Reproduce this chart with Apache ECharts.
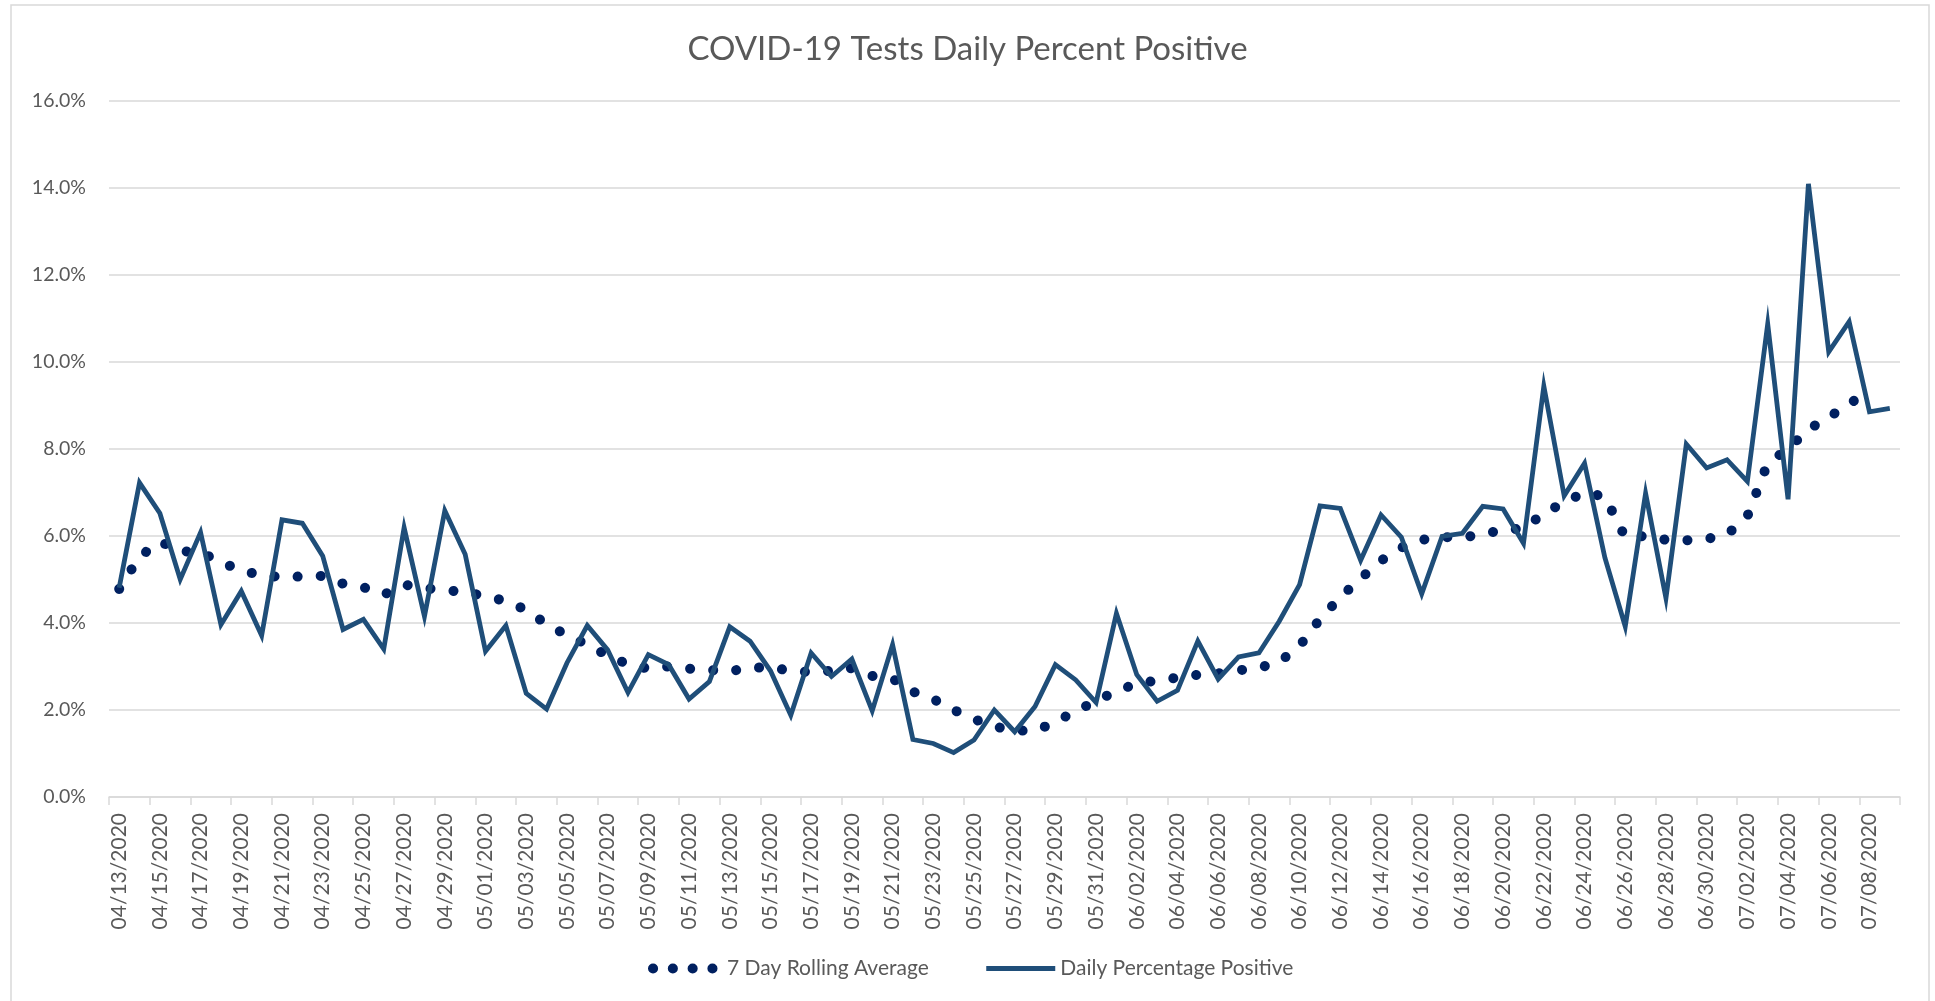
<!DOCTYPE html>
<html>
<head>
<meta charset="utf-8">
<title>COVID-19 Tests Daily Percent Positive</title>
<script src="https://cdn.jsdelivr.net/npm/echarts@6/dist/echarts.min.js"></script>
<style>
  html, body { margin: 0; padding: 0; background: #fff; }
  #chart { width: 1935px; height: 1001px; }
</style>
</head>
<body>
<div id="chart"></div>
<script>
// categories: one per day, 04/13/2020 .. 07/09/2020
var dates = [
  '04/13/2020', '04/14/2020', '04/15/2020', '04/16/2020', '04/17/2020', '04/18/2020', '04/19/2020', '04/20/2020',
  '04/21/2020', '04/22/2020', '04/23/2020', '04/24/2020', '04/25/2020', '04/26/2020', '04/27/2020', '04/28/2020',
  '04/29/2020', '04/30/2020', '05/01/2020', '05/02/2020', '05/03/2020', '05/04/2020', '05/05/2020', '05/06/2020',
  '05/07/2020', '05/08/2020', '05/09/2020', '05/10/2020', '05/11/2020', '05/12/2020', '05/13/2020', '05/14/2020',
  '05/15/2020', '05/16/2020', '05/17/2020', '05/18/2020', '05/19/2020', '05/20/2020', '05/21/2020', '05/22/2020',
  '05/23/2020', '05/24/2020', '05/25/2020', '05/26/2020', '05/27/2020', '05/28/2020', '05/29/2020', '05/30/2020',
  '05/31/2020', '06/01/2020', '06/02/2020', '06/03/2020', '06/04/2020', '06/05/2020', '06/06/2020', '06/07/2020',
  '06/08/2020', '06/09/2020', '06/10/2020', '06/11/2020', '06/12/2020', '06/13/2020', '06/14/2020', '06/15/2020',
  '06/16/2020', '06/17/2020', '06/18/2020', '06/19/2020', '06/20/2020', '06/21/2020', '06/22/2020', '06/23/2020',
  '06/24/2020', '06/25/2020', '06/26/2020', '06/27/2020', '06/28/2020', '06/29/2020', '06/30/2020', '07/01/2020',
  '07/02/2020', '07/03/2020', '07/04/2020', '07/05/2020', '07/06/2020', '07/07/2020', '07/08/2020', '07/09/2020'
];

// 7 day rolling average (%), last day has no value drawn
var rollingAvg = [
  4.78, 5.52, 5.87, 5.65, 5.62, 5.40, 5.20, 5.10, 5.05, 5.07, 5.08, 4.90, 4.82, 4.65, 4.88, 4.80,
  4.76, 4.70, 4.62, 4.50, 4.30, 3.97, 3.72, 3.50, 3.25, 3.05, 2.95, 3.00, 2.95, 2.92, 2.89, 2.97,
  2.98, 2.90, 2.87, 2.90, 2.96, 2.78, 2.72, 2.42, 2.25, 2.00, 1.79, 1.62, 1.53, 1.52, 1.72, 1.98,
  2.20, 2.44, 2.60, 2.68, 2.74, 2.81, 2.84, 2.91, 2.97, 3.10, 3.47, 4.09, 4.59, 5.02, 5.43, 5.73,
  5.91, 5.97, 5.97, 6.03, 6.15, 6.16, 6.52, 6.77, 7.00, 6.90, 5.97, 6.00, 5.91, 5.90, 5.93, 6.03,
  6.45, 7.67, 8.00, 8.45, 8.72, 9.05, 9.28, null
];

// daily percentage positive (%)
var dailyPct = [
  4.81, 7.22, 6.52, 5.00, 6.08, 3.96, 4.73, 3.71, 6.37, 6.29, 5.54, 3.85, 4.08, 3.40, 6.19, 4.15,
  6.58, 5.58, 3.35, 3.94, 2.38, 2.02, 3.08, 3.94, 3.38, 2.40, 3.27, 3.04, 2.25, 2.65, 3.91, 3.58,
  2.90, 1.88, 3.31, 2.77, 3.17, 1.98, 3.50, 1.32, 1.23, 1.02, 1.31, 2.00, 1.50, 2.08, 3.04, 2.69,
  2.17, 4.22, 2.81, 2.20, 2.45, 3.58, 2.71, 3.22, 3.31, 4.04, 4.88, 6.69, 6.63, 5.44, 6.48, 5.97,
  4.67, 5.99, 6.06, 6.68, 6.62, 5.83, 9.44, 6.92, 7.67, 5.50, 3.92, 6.98, 4.57, 8.11, 7.56, 7.75,
  7.25, 10.87, 6.84, 14.09, 10.23, 10.92, 8.85, 8.93
];

// y axis ticks (%)
var yMin = 0, yMax = 16, yStep = 2;

var font = 'Lato, "Open Sans", sans-serif';
var textGray = '#595959';
var gridGray = '#d9d9d9';
var avgColor = '#002060';
var dailyColor = '#1f4e79';

var myChart = echarts.init(document.getElementById('chart'));

var option = {
  backgroundColor: '#fff',
  animation: false,
  title: {
    text: 'COVID-19 Tests Daily Percent Positive',
    left: 'center',
    top: 28,
    textStyle: { fontFamily: font, fontSize: 33, fontWeight: 'normal', color: textGray }
  },
  legend: {
    left: 643,
    top: 953,
    itemWidth: 69,
    itemHeight: 12,
    itemGap: 55,
    textStyle: { fontFamily: font, fontSize: 21, color: textGray },
    data: [
      {
        name: '7 Day Rolling Average',
        itemStyle: { opacity: 0 },
        lineStyle: { type: [0.1, 19.7], cap: 'round', width: 10, color: avgColor }
      },
      {
        name: 'Daily Percentage Positive',
        itemStyle: { opacity: 0 },
        lineStyle: { width: 5, color: dailyColor }
      }
    ]
  },
  graphic: [{
    type: 'rect',
    shape: { x: 11, y: 5, width: 1918, height: 1010 },
    style: { fill: 'none', stroke: gridGray, lineWidth: 1.5 },
    silent: true
  }],
  grid: { left: 109, right: 35, top: 100.7, bottom: 204, containLabel: false },
  xAxis: {
    type: 'category',
    data: dates,
    boundaryGap: true,
    axisLine: { lineStyle: { color: gridGray, width: 1.5 } },
    axisTick: { show: true, interval: 1, length: 8, lineStyle: { color: gridGray, width: 1.5 } },
    axisLabel: {
      interval: 1,
      rotate: 90,
      margin: 16,
      fontFamily: font,
      fontSize: 21,
      color: textGray
    }
  },
  yAxis: {
    type: 'value',
    min: yMin,
    max: yMax,
    interval: yStep,
    axisLine: { show: false },
    axisTick: { show: false },
    splitLine: { lineStyle: { color: gridGray, width: 1.5 } },
    axisLabel: {
      margin: 23,
      fontFamily: font,
      fontSize: 19.5,
      color: textGray,
      formatter: function (v) { return v.toFixed(1) + '%'; }
    }
  },
  series: [
    {
      name: '7 Day Rolling Average',
      type: 'line',
      data: rollingAvg,
      symbol: 'none',
      connectNulls: false,
      lineStyle: { color: avgColor, width: 10, type: [0.1, 23], cap: 'round' },
      itemStyle: { color: avgColor },
      z: 2
    },
    {
      name: 'Daily Percentage Positive',
      type: 'line',
      data: dailyPct,
      symbol: 'none',
      lineStyle: { color: dailyColor, width: 4.8, join: 'miter' },
      itemStyle: { color: dailyColor },
      z: 3
    }
  ]
};

myChart.setOption(option);
</script>
</body>
</html>
